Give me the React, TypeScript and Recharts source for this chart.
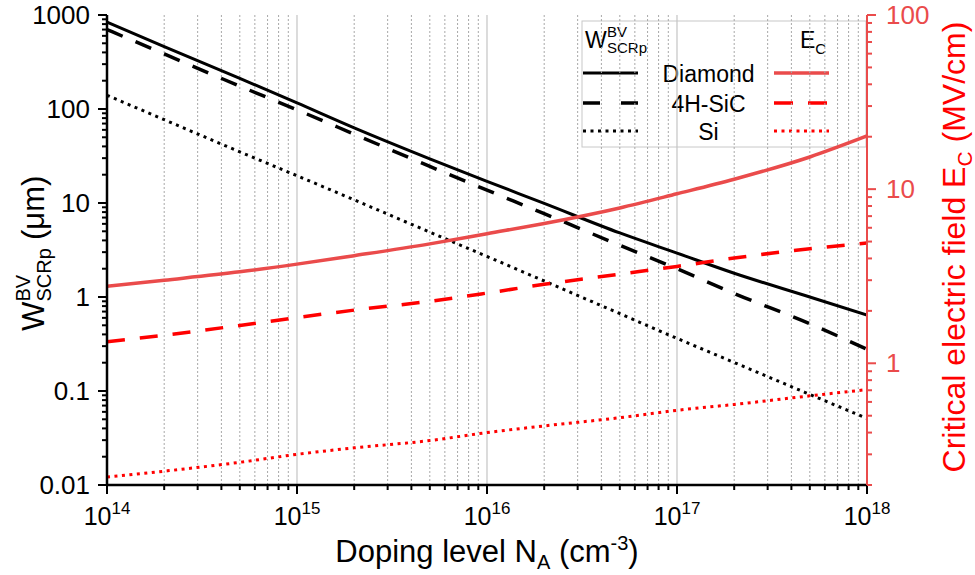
import React from "react";
import { LineChart, Line, XAxis, YAxis, ReferenceLine, Customized } from "recharts";

// doping level N_A (cm^-3)
const doping = [1e14, 2e14, 5e14, 1e15, 2e15, 5e15, 1e16, 2e16, 5e16, 1e17, 2e17, 5e17, 1e18];

// space charge region width at breakdown (um), left axis
const wDiamond = [840, 460, 212, 116, 63, 29.5, 17, 9.9, 4.8, 2.93, 1.79, 1.0, 0.644];
const wSiC = [700, 385, 175, 98, 54, 24.5, 13.7, 7.7, 3.55, 2.0, 1.09, 0.52, 0.278];
const wSi = [140, 77, 35, 19.5, 10.8, 4.9, 2.7, 1.48, 0.665, 0.363, 0.201, 0.092, 0.051];

// critical electric field (MV/cm), right axis
const ecDiamond = [2.77, 3.0, 3.35, 3.71, 4.15, 4.85, 5.55, 6.35, 7.8, 9.4, 11.4, 15.3, 20.2];
const ecSiC = [1.33, 1.45, 1.65, 1.83, 2.02, 2.27, 2.53, 2.84, 3.25, 3.6, 4.02, 4.55, 4.9];
const ecSi = [0.222, 0.24, 0.27, 0.3, 0.327, 0.36, 0.4, 0.437, 0.487, 0.537, 0.58, 0.65, 0.706];

const materials = ["Diamond", "4H-SiC", "Si"];

// axes
const xMajor = [1e14, 1e15, 1e16, 1e17, 1e18];
const xExponents = ["14", "15", "16", "17", "18"];
const leftMajor = [0.01, 0.1, 1, 10, 100, 1000];
const leftLabels = ["0.01", "0.1", "1", "10", "100", "1000"];
const rightMajor = [1, 10, 100];
const rightLabels = ["1", "10", "100"];
const rightMinorStart = [0.1, 1, 10];
const minorSteps = [2, 3, 4, 5, 6, 7, 8, 9];

const FONT = "'Liberation Sans', Arial, Helvetica, sans-serif";
const RED_LIGHT = "#ea4b4b";
const RED = "#ff0000";

const withMinors = (decades: number[]) => {
    const out: number[] = [];
    decades.forEach((d) => {
        out.push(d);
        minorSteps.forEach((k) => out.push(d * k));
    });
    return out;
};

const xTicks = [...withMinors(xMajor.slice(0, -1)), 1e18];
const leftTicks = [...withMinors(leftMajor.slice(0, -1)), 1000];
const rightTicks = [...withMinors(rightMinorStart).filter((v) => v >= 0.2), 100];

const isMajor = (v: number, majors: number[]) => majors.findIndex((m) => Math.abs(v / m - 1) < 1e-6);

const data = doping.map((n, i) => ({
    n,
    wDiamond: wDiamond[i],
    wSiC: wSiC[i],
    wSi: wSi[i],
    ecDiamond: ecDiamond[i],
    ecSiC: ecSiC[i],
    ecSi: ecSi[i],
}));

const BottomTick = ({ x, y, payload }: any) => {
    const idx = isMajor(payload.value, xMajor);
    return (
        <g>
            <line x1={x} x2={x} y1={y} y2={y + (idx >= 0 ? 9 : 5)} stroke="#000" strokeWidth={2} />
            {idx >= 0 && (
                <text x={x} y={y + 40} textAnchor="middle" fontSize={25} fontFamily={FONT} fill="#000">
                    10
                    <tspan dy={-11} fontSize={17}>
                        {xExponents[idx]}
                    </tspan>
                </text>
            )}
        </g>
    );
};

const TopTick = ({ x, y, payload }: any) => {
    const idx = isMajor(payload.value, xMajor);
    return <line x1={x} x2={x} y1={y} y2={y + (idx >= 0 ? 9 : 5)} stroke="#000" strokeWidth={2} />;
};

const LeftTick = ({ x, y, payload }: any) => {
    const idx = isMajor(payload.value, leftMajor);
    return (
        <g>
            <line x1={x - (idx >= 0 ? 9 : 5)} x2={x} y1={y} y2={y} stroke="#000" strokeWidth={2} />
            {idx >= 0 && (
                <text x={x - 17} y={y} dy={9} textAnchor="end" fontSize={26} fontFamily={FONT} fill="#000">
                    {leftLabels[idx]}
                </text>
            )}
        </g>
    );
};

const RightTick = ({ x, y, payload }: any) => {
    const idx = isMajor(payload.value, rightMajor);
    return (
        <g>
            <line x1={x} x2={x + (idx >= 0 ? 9 : 5)} y1={y} y2={y} stroke={RED_LIGHT} strokeWidth={2} />
            {idx >= 0 && (
                <text x={x + 19} y={y} dy={9} textAnchor="start" fontSize={26} fontFamily={FONT} fill={RED_LIGHT}>
                    {rightLabels[idx]}
                </text>
            )}
        </g>
    );
};

const wStyles = [
    { stroke: "#000", dash: undefined as string | undefined, width: 3 },
    { stroke: "#000", dash: "17 14", width: 3.5 },
    { stroke: "#000", dash: "3 4.5", width: 3 },
];
const ecStyles = [
    { stroke: RED_LIGHT, dash: undefined as string | undefined, width: 3.5 },
    { stroke: RED, dash: "18 15", width: 3.5 },
    { stroke: RED, dash: "3 4.5", width: 3 },
];

const Titles = () => (
    <g fontFamily={FONT}>
        {/* legend box */}
        <rect x={582} y={21} width={284} height={126} fill="#fff" stroke="#c8c8c8" strokeWidth={1} />
        <text x={585} y={48} fontSize={23} fill="#000">W</text>
        <text x={607} y={37} fontSize={15} fill="#000">BV</text>
        <text x={607} y={53} fontSize={15} fill="#000">SCRp</text>
        <text x={800} y={48} fontSize={23} fill="#000">
            E<tspan fontSize={15} dy={6}>C</tspan>
        </text>
        {materials.map((m, i) => {
            const ly = [73, 103, 131][i];
            return (
                <g key={m}>
                    <line x1={583} x2={638} y1={ly} y2={ly} stroke={wStyles[i].stroke} strokeWidth={wStyles[i].width}
                        strokeDasharray={i === 1 ? "17 21" : wStyles[i].dash} />
                    <text x={708.5} y={ly + 8.5} textAnchor="middle" fontSize={23} fill="#000">{m}</text>
                    <line x1={774} x2={829} y1={ly} y2={ly} stroke={ecStyles[i].stroke} strokeWidth={ecStyles[i].width}
                        strokeDasharray={i === 1 ? "19 15" : ecStyles[i].dash} />
                </g>
            );
        })}

        {/* axis titles */}
        <text x={487} y={562} textAnchor="middle" fontSize={31} fill="#000">
            Doping level N
            <tspan fontSize={20} dy={7}>A</tspan>
            <tspan dy={-7}> (cm</tspan>
            <tspan fontSize={20} dy={-12}>-3</tspan>
            <tspan dy={12}>)</tspan>
        </text>
        <g transform="rotate(-90 44 253)" fill="#000">
            <text x={-34} y={253} fontSize={31}>W</text>
            <text x={-4.5} y={239} fontSize={20}>BV</text>
            <text x={-4.5} y={260} fontSize={20}>SCRp</text>
            <text x={57} y={253} fontSize={31}>(μm)</text>
        </g>
        <text x={965} y={247} transform="rotate(-90 965 247)" textAnchor="middle" fontSize={32} fill={RED}>
            Critical electric field E
            <tspan fontSize={21} dy={7}>C</tspan>
            <tspan dy={-7}> (MV/cm)</tspan>
        </text>
    </g>
);

export default function App() {
    return (
        <div style={{ position: "absolute", left: 0, top: 0, width: 975, height: 575, background: "#fff" }}>
            <LineChart width={975} height={575} data={data} margin={{ top: 15, right: 0, bottom: 0, left: 0 }}>
                <XAxis
                    xAxisId="b"
                    dataKey="n"
                    type="number"
                    scale="log"
                    domain={[1e14, 1e18]}
                    allowDataOverflow
                    ticks={xTicks}
                    interval={0}
                    height={90}
                    tickSize={0}
                    tickMargin={0}
                    tickLine={false}
                    axisLine={{ stroke: "#000", strokeWidth: 2.5 }}
                    tick={(p: any) => <BottomTick {...p} />}
                />
                <XAxis
                    xAxisId="t"
                    orientation="top"
                    dataKey="n"
                    type="number"
                    scale="log"
                    domain={[1e14, 1e18]}
                    allowDataOverflow
                    ticks={xTicks}
                    interval={0}
                    height={0}
                    tickSize={0}
                    tickMargin={0}
                    tickLine={false}
                    axisLine={{ stroke: "#000", strokeWidth: 2.5 }}
                    tick={(p: any) => <TopTick {...p} />}
                />
                <YAxis
                    yAxisId="left"
                    type="number"
                    scale="log"
                    domain={[0.01, 1000]}
                    allowDataOverflow
                    ticks={leftTicks}
                    interval={0}
                    width={107}
                    tickSize={0}
                    tickMargin={0}
                    tickLine={false}
                    axisLine={{ stroke: "#000", strokeWidth: 2.5 }}
                    tick={(p: any) => <LeftTick {...p} />}
                />
                <YAxis
                    yAxisId="right"
                    orientation="right"
                    type="number"
                    scale="log"
                    domain={[0.2, 100]}
                    allowDataOverflow
                    ticks={rightTicks}
                    interval={0}
                    width={108}
                    tickSize={0}
                    tickMargin={0}
                    tickLine={false}
                    axisLine={{ stroke: RED_LIGHT, strokeWidth: 2 }}
                    tick={(p: any) => <RightTick {...p} />}
                />
                {xTicks
                    .filter((v) => v > 1e14 && v < 1e18)
                    .map((v) =>
                        isMajor(v, xMajor) >= 0 ? (
                            <ReferenceLine key={v} xAxisId="b" yAxisId="left" x={v} stroke="#c4c4c4" strokeWidth={1.2} />
                        ) : (
                            <ReferenceLine key={v} xAxisId="b" yAxisId="left" x={v} stroke="#a8a8a8" strokeWidth={1} strokeDasharray="2 2" />
                        )
                    )}
                <Customized component={Titles} />
                {(["wDiamond", "wSiC", "wSi"] as const).map((k, i) => (
                    <Line key={k} xAxisId="b" yAxisId="left" dataKey={k} type="monotone" dot={false} activeDot={false}
                        stroke={wStyles[i].stroke} strokeWidth={wStyles[i].width} strokeDasharray={wStyles[i].dash}
                        isAnimationActive={false} />
                ))}
                {(["ecDiamond", "ecSiC", "ecSi"] as const).map((k, i) => (
                    <Line key={k} xAxisId="b" yAxisId="right" dataKey={k} type="monotone" dot={false} activeDot={false}
                        stroke={ecStyles[i].stroke} strokeWidth={ecStyles[i].width} strokeDasharray={ecStyles[i].dash}
                        isAnimationActive={false} />
                ))}
            </LineChart>
        </div>
    );
}
